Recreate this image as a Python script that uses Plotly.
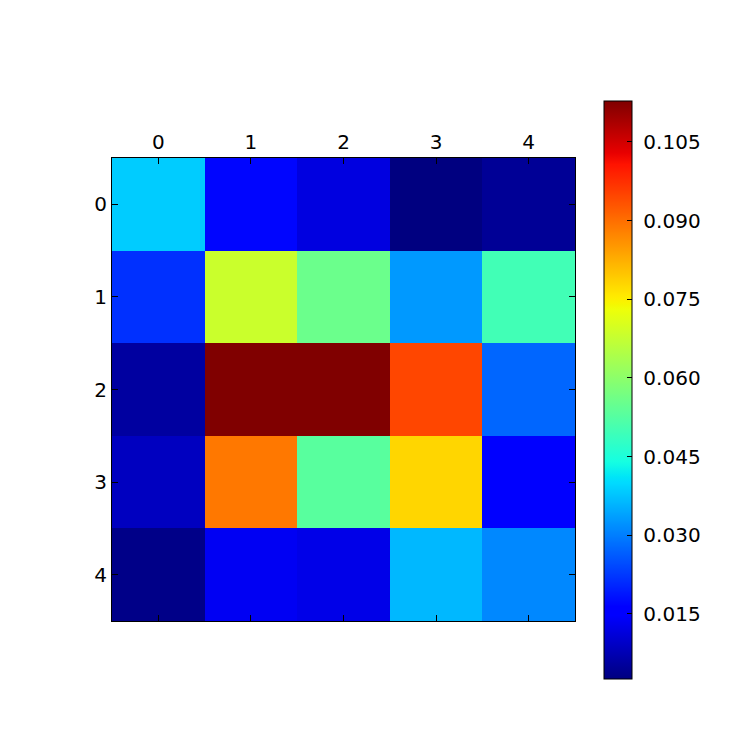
import numpy as np
import plotly.graph_objects as go

# matrix values (rows 0..4, cols 0..4)
row0 = [0.0384, 0.0169, 0.0118, 0.0026, 0.0048]
row1 = [0.0216, 0.0683, 0.0555, 0.0329, 0.0498]
row2 = [0.0057, 0.1128, 0.1128, 0.0948, 0.0274]
row3 = [0.0087, 0.0889, 0.0530, 0.0779, 0.0158]
row4 = [0.0034, 0.0136, 0.0125, 0.0362, 0.0310]

labels = [0, 1, 2, 3, 4]
zmin, zmax = 0.0026, 0.1128
cbar_ticks = [0.015, 0.030, 0.045, 0.060, 0.075, 0.090, 0.105]


def mpl_jet(n=256):
    """matplotlib's jet from its segment data"""
    red = [(0, 0), (0.35, 0), (0.66, 1), (0.89, 1), (1, 0.5)]
    green = [(0, 0), (0.125, 0), (0.375, 1), (0.64, 1), (0.91, 0), (1, 0)]
    blue = [(0, 0.5), (0.11, 1), (0.34, 1), (0.65, 0), (1, 0)]
    scale = []
    for i in range(n):
        t = i / (n - 1)
        c = [np.interp(t, [p[0] for p in s], [p[1] for p in s]) for s in (red, green, blue)]
        scale.append([t, 'rgb(%d,%d,%d)' % tuple(int(round(v * 255)) for v in c)])
    return scale


z = np.array([row0, row1, row2, row3, row4])
font = dict(family='DejaVu Sans', size=20, color='black')

fig = go.Figure(go.Heatmap(
    z=z, x=labels, y=labels,
    zmin=zmin, zmax=zmax,
    colorscale=mpl_jet(),
    colorbar=dict(
        x=1.0626, xanchor='left', xpad=0,
        y=0.499, yanchor='middle', ypad=0,
        len=1.2484, lenmode='fraction',
        thickness=28,
        outlinecolor='black', outlinewidth=1,
        tickvals=cbar_ticks,
        ticktext=[' %.3f' % v for v in cbar_ticks],
        ticks='inside', ticklen=5, tickcolor='black',
        tickfont=font,
    ),
))

fig.update_xaxes(
    side='top', range=[-0.5, 4.5], tickvals=labels,
    ticks='inside', ticklen=6, tickcolor='black',
    showline=True, linecolor='black', linewidth=1, mirror='ticks',
    showgrid=False, zeroline=False,
    tickfont=font,
)
fig.update_yaxes(
    range=[4.5, -0.5], tickvals=labels,
    ticks='inside', ticklen=6, tickcolor='black',
    showline=True, linecolor='black', linewidth=1, mirror='ticks',
    showgrid=False, zeroline=False,
    tickfont=font,
)

# page body has an 8px margin, so pull the plot area back by that much
fig.update_layout(
    width=747, height=747,
    margin=dict(l=104, r=180, t=150, b=134),
    paper_bgcolor='white', plot_bgcolor='white',
)

fig.write_html("out.html")
